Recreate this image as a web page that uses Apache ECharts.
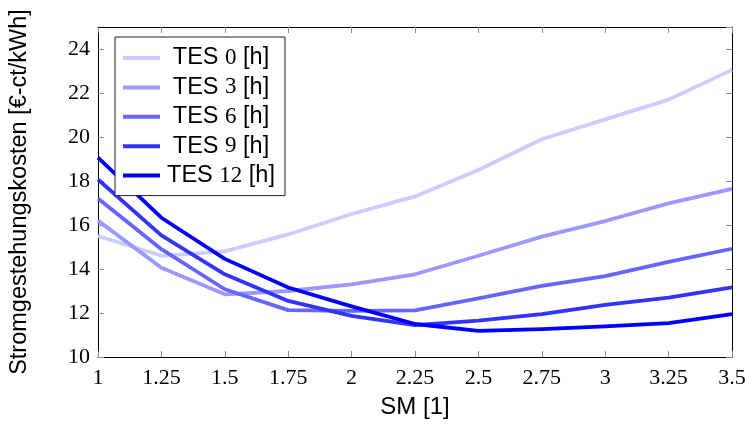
<!DOCTYPE html>
<html>
<head>
<meta charset="utf-8">
<script src="https://cdn.jsdelivr.net/npm/echarts@6/dist/echarts.min.js"></script>
<style>
  html, body { margin: 0; padding: 0; background: #fff; }
  #chart { width: 749px; height: 424px; }
</style>
</head>
<body>
<div id="chart"></div>
<script>
// Solar multiple on the x axis
const sm = [1, 1.25, 1.5, 1.75, 2, 2.25, 2.5, 2.75, 3, 3.25, 3.5];

// Storage hours per curve
const tesHours = [0, 3, 6, 9, 12];

// Levelised electricity cost per storage size [€-ct/kWh]
const tes0  = [15.5, 14.6, 14.8, 15.57, 16.5, 17.3, 18.5, 19.9, 20.8, 21.7, 23.05];
const tes3  = [16.2, 14.06, 12.85, 13.0, 13.3, 13.76, 14.6, 15.47, 16.18, 16.98, 17.64];
const tes6  = [17.2, 14.9, 13.08, 12.13, 12.1, 12.12, 12.67, 13.23, 13.68, 14.32, 14.92];
const tes9  = [18.07, 15.53, 13.76, 12.55, 11.87, 11.45, 11.65, 11.95, 12.37, 12.7, 13.16];
const tes12 = [19.06, 16.33, 14.46, 13.16, 12.3, 11.5, 11.19, 11.27, 11.39, 11.54, 11.95];

const curves = [tes0, tes3, tes6, tes9, tes12];
const colors = ['#ccccff', '#9999ff', '#6666ff', '#3333ff', '#0000ff'];

const SANS = '"Liberation Sans", Arial, sans-serif';
const SERIF = '"Liberation Serif", "DejaVu Serif", serif';

const series = curves.map((vals, i) => ({
  name: 'TES ' + tesHours[i] + ' [h]',
  type: 'line',
  data: sm.map((x, j) => [x, vals[j]]),
  showSymbol: false,
  symbol: 'none',
  smooth: false,
  lineStyle: { color: colors[i], width: 3.8, join: 'round' },
  itemStyle: { color: colors[i] },
  emphasis: { disabled: true },
  z: 2
}));

const tickStyle = { show: true, inside: true, length: 6, lineStyle: { color: '#8c8c8c', width: 1 } };
const frameLine = { show: true, onZero: false, lineStyle: { color: '#000', width: 1 } };

const chart = echarts.init(document.getElementById('chart'), null, { renderer: 'canvas' });
chart.setOption({
  animation: false,
  backgroundColor: '#fff',
  grid: { left: 96, right: 17, top: 27, bottom: 66 },
  legend: {
    orient: 'vertical',
    left: 115,
    top: 37,
    padding: [9, 8, 8, 8],
    itemGap: 5.4,
    itemWidth: 37,
    itemHeight: 4,
    icon: 'rect',
    backgroundColor: '#fff',
    borderColor: '#222',
    borderWidth: 1,
    z: 10,
    selectedMode: false,
    formatter: name => {
      const m = name.match(/^TES (\d+) \[h\]$/);
      return '{s|TES }{n|' + m[1] + '}{s| [h]}';
    },
    textStyle: {
      width: 112,
      lineHeight: 22,
      rich: {
        s: { fontFamily: SANS, fontSize: 23.5, color: '#000', align: 'center', lineHeight: 22 },
        n: { fontFamily: SERIF, fontSize: 23, color: '#000', align: 'center', lineHeight: 22 }
      }
    },
    data: series.map(s => s.name)
  },
  xAxis: [{
    type: 'value',
    min: 1, max: 3.5, interval: 0.25,
    name: 'SM [1]',
    nameLocation: 'middle',
    nameGap: 38,
    nameTextStyle: { fontFamily: SANS, fontSize: 24, color: '#000' },
    axisLine: frameLine,
    axisTick: tickStyle,
    splitLine: { show: false },
    axisLabel: { fontFamily: SERIF, fontSize: 22, color: '#000', margin: 10 }
  }, {
    type: 'value',
    position: 'top',
    min: 1, max: 3.5, interval: 0.25,
    axisLine: frameLine,
    axisTick: tickStyle,
    splitLine: { show: false },
    axisLabel: { show: false }
  }],
  yAxis: [{
    type: 'value',
    min: 10, max: 25, interval: 2,
    name: 'Stromgestehungskosten [€-ct/kWh]',
    nameLocation: 'middle',
    nameRotate: 90,
    nameGap: 66,
    nameTextStyle: { fontFamily: SANS, fontSize: 23.5, color: '#000' },
    axisLine: frameLine,
    axisTick: tickStyle,
    splitLine: { show: false },
    axisLabel: {
      fontFamily: SERIF, fontSize: 22, color: '#000', margin: 8,
      showMaxLabel: false
    }
  }, {
    type: 'value',
    position: 'right',
    min: 10, max: 25, interval: 2,
    axisLine: frameLine,
    axisTick: tickStyle,
    splitLine: { show: false },
    axisLabel: { show: false }
  }],
  series: series
});
</script>
</body>
</html>
